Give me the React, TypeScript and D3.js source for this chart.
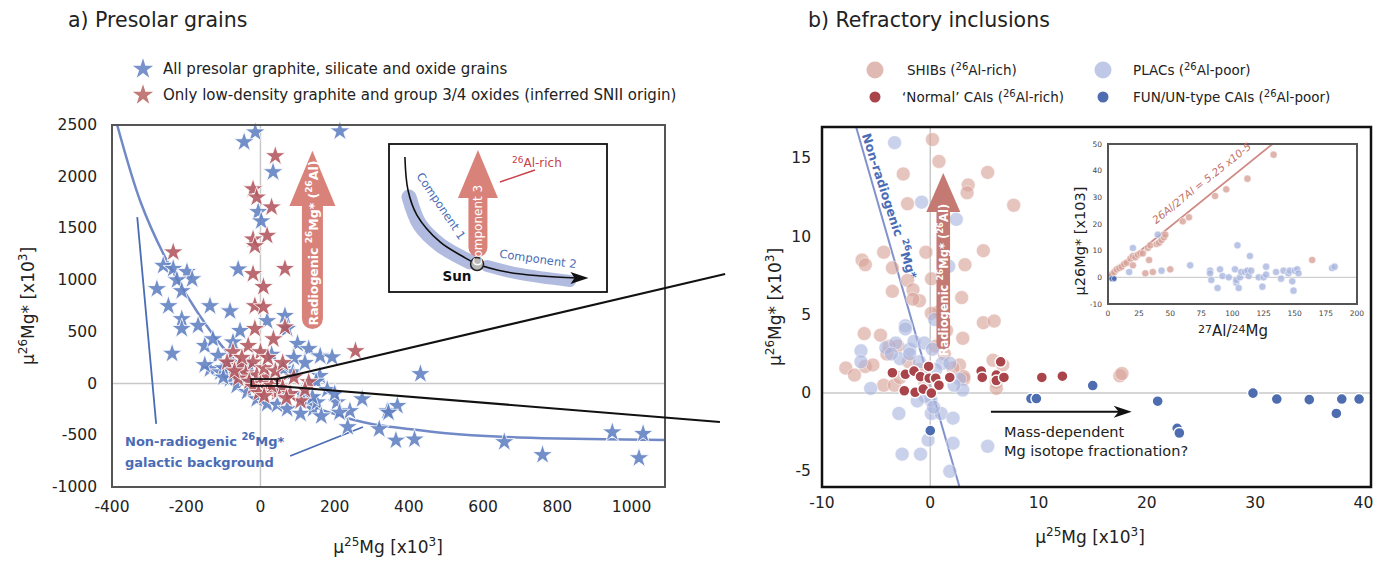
import React from "react";
import * as d3 from "d3";

const W = 1387;
const H = 562;
const FONT = "'DejaVu Sans', Verdana, sans-serif";

// ---------------- Panel a: presolar grains ----------------
const aXTicks = [-400, -200, 0, 200, 400, 600, 800, 1000];
const aYTicks = [-1000, -500, 0, 500, 1000, 1500, 2000, 2500];

const aBlueStars: [number, number][] = [
  [-14, 2430], [-44, 2335], [214, 2440], [34, 2045], [-6, 1660], [2, 1570], [-60, 1105],
  [-262, 1140], [-235, 1110], [-198, 1080], [-184, 1010], [-225, 1000], [-279, 915], [-212, 895],
  [-248, 750], [-136, 750], [-82, 700], [-212, 625], [-168, 560], [-212, 530], [-238, 290],
  [-150, 365], [-128, 430], [-55, 510], [-74, 400], [-114, 270], [-136, 140], [-82, 205],
  [66, 655], [72, 530], [18, 605], [100, 385], [130, 335], [161, 265], [193, 255], [431, 93],
  [61, 140], [88, 110], [160, 75],
  [-108, 110], [-82, 45], [-64, -20], [-36, -80], [-10, -150], [18, -195], [45, -205], [72, -245], [108, -290],
  [142, -245], [206, -180], [241, -265], [274, -150], [342, -265], [369, -215], [130, -165], [152, -180],
  [164, -315], [213, -280], [235, -420], [320, -440], [345, -280], [365, -550], [415, -540],
  [657, -565], [760, -690], [948, -470], [1031, -485], [1020, -720],
  [-150, 180], [-100, 150], [-60, 100], [-100, 60], [-40, 60], [110, -100], [140, -130], [60, -60],
  [150, 20], [120, 200], [-30, 170], [30, 280], [90, 250], [180, -60], [200, -100],
];

const aRedStars: [number, number][] = [
  [-235, 1270], [40, 2200], [-20, 1880], [-10, 1800], [30, 1705], [18, 1430], [-20, 1395], [-15, 1330],
  [66, 1110], [-20, 1060], [8, 935], [-15, 750], [8, 740], [-15, 530], [66, 545], [35, 430],
  [-33, 365], [-74, 305], [0, 305], [-90, 205], [-55, 170], [-20, 205], [256, 315], [130, 15],
  [108, -170], [45, -85], [20, -55],
  [-40, 100], [-10, 80], [20, 60], [50, 30], [-60, 50], [-30, 20], [0, 0], [30, -20], [60, -40],
  [80, -100], [-20, -30], [10, 150], [40, 120], [-50, 250], [20, 250], [60, 200], [90, 60],
  [120, -60], [-5, -90], [70, -140], [-70, 120], [10, -120],
];

const aBackgroundCurve: [number, number][] = [
  [-386, 2500], [-323, 1755], [-261, 1250], [-198, 850], [-145, 560], [-90, 305], [-40, 130],
  [0, 30], [50, -70], [100, -160], [150, -235], [200, -295], [250, -350], [300, -390],
  [400, -440], [500, -480], [650, -515], [800, -532], [1090, -545],
];
const aLeftLine: [number, number][] = [[-332, 1610], [-281, -390]];
const aLowerLine: [number, number][] = [[80, -700], [276, -420]];
const aZoomBox = { x0: -25, x1: 45, y0: -23, y1: 44 };
const aZoomUpperEnd: [number, number] = [1252, 1060];
const aZoomLowerEnd: [number, number] = [1238, -371];
const aArrow = { x: 140, tip: 2250, base: 1717, bottom: 528 };

// schematic inset (unit coordinates)
const sCurve: [number, number][] = [
  [0.073, 0.912], [0.087, 0.689], [0.128, 0.52], [0.234, 0.338], [0.335, 0.243],
  [0.404, 0.189], [0.541, 0.135], [0.7, 0.108], [0.86, 0.095],
];
const sBand1: [number, number][] = [[0.092, 0.642], [0.142, 0.453], [0.234, 0.318], [0.372, 0.203]];
const sBand2: [number, number][] = [[0.45, 0.176], [0.601, 0.122], [0.83, 0.074]];
const sSun: [number, number] = [0.404, 0.189];

// ---------------- Panel b: refractory inclusions ----------------
const bXTicks = [-10, 0, 10, 20, 30, 40];
const bYTicks = [-5, 0, 5, 10, 15];

const bSHIBs: [number, number][] = [
  [0.2, 16.2], [0.8, 14.8], [-2.5, 14.0], [5.3, 14.1], [3.5, 13.3], [3.4, 12.8], [-2.1, 12.1], [7.7, 12.0],
  [-6.3, 8.5], [-6.0, 8.2], [-4.3, 9.0], [-3.5, 8.0], [-0.4, 9.0], [4.9, 9.1], [3.2, 8.2], [-2.1, 7.2],
  [-1.6, 6.6], [-3.5, 6.5], [0.1, 7.3], [-1.0, 5.9], [-1.6, 6.0], [2.9, 6.1], [0.8, 5.2], [0.1, 5.1],
  [4.9, 4.5], [5.9, 4.6], [-6.1, 3.8], [-4.6, 3.7], [3.0, 3.5], [-7.8, 1.6], [-7.0, 1.15], [-6.0, 1.7],
  [-5.3, 1.8], [-4.3, 0.5], [-3.3, 0.5], [5.8, 2.1], [6.7, 1.8], [6.1, 0.7], [6.1, 0.3], [1.3, 2.5],
  [2.7, 1.8], [3.1, 0.9], [2.1, 1.6], [3.1, 1.05], [17.5, 1.1], [17.7, 1.25], [-3.0, 3.0], [-2.0, 2.0],
  [-1.0, 1.5], [-4.0, 2.5], [0.5, 3.0], [1.5, 4.0], [-0.5, 0.7], [-2.8, 1.0], [-3.8, 3.0],
];
const bPLACs: [number, number][] = [
  [-3.3, 16.0], [-0.8, 12.2], [2.4, 11.1], [1.7, 8.1],
  [-6.4, 2.7], [-6.4, 2.0], [-4.1, 2.9], [-3.2, 3.2], [-2.3, 4.3], [-1.9, 2.8], [-1.5, 3.3],
  [-0.55, 3.2], [0.2, 2.8], [1.1, 1.9], [1.8, 1.9], [2.7, 0.9], [3.0, 0.2], [-5.5, 0.3],
  [-2.9, -1.3], [0.1, -1.3], [1.0, -1.3], [2.1, -1.6], [-2.6, -3.9], [-0.9, -3.9], [-0.2, -3.0],
  [2.1, -3.2], [1.8, -5.0], [5.3, -3.4], [0.06, -0.45], [0.3, -0.9], [-2.8, 2.2], [-3.6, 2.5],
  [-1.0, 2.0], [0.5, 1.5], [2.2, 0.5], [-0.5, -0.2], [-1.2, -0.5], [-2.3, 4.1], [0.4, 4.7], [-1.9, 2.5],
];
const bNormal: [number, number][] = [
  [-3.5, 1.3], [-2.3, 1.2], [-1.5, 1.4], [-0.9, 1.05], [-0.15, 1.7], [-0.1, 0.95], [0.5, 0.95],
  [0.8, 0.5], [1.8, 1.0], [-2.4, 0.15], [-1.4, 0.05], [-0.65, 0.25], [0.1, 0.0], [4.7, 1.4],
  [4.8, 1.0], [6.1, 1.15], [6.1, 0.8], [6.5, 2.0], [6.8, 1.0], [10.3, 1.0], [12.2, 1.08],
];
const bFUN: [number, number][] = [
  [0, -2.4], [9.3, -0.35], [9.8, -0.35], [15.0, 0.48], [21.0, -0.52], [22.8, -2.25], [23.0, -2.55],
  [29.8, 0.0], [32.0, -0.38], [35.0, -0.42], [37.5, -1.3], [38.0, -0.38], [39.6, -0.38],
];
const bNonRadLine: [number, number][] = [[-6.85, 17], [2.7, -6]];
const bArrow = { x: 1.2, tip: 14.06, base: 11.57, bottom: 2.75 };
const bMassArrow: [number, number][] = [[5.6, -1.2], [18.6, -1.2]];

// inset b (Al/Mg isochron)
const iXTicks = [0, 25, 50, 75, 100, 125, 150, 175, 200];
const iYTicks = [-10, 0, 10, 20, 30, 40, 50];
const iSHIBs: [number, number][] = [
  [3, 1], [5, 2], [7, 3], [9, 3.5], [11, 4], [13, 5], [15, 5.5], [18, 7], [20, 8], [22, 7.5], [24, 8.5],
  [26, 9], [28, 9], [32, 11], [34, 12], [39, 12.5], [41, 13], [43, 14], [45, 15], [46, 16], [60, 21],
  [65, 22.5], [86, 30.5], [95, 33], [112, 37], [133, 46],
  [20, 4.5], [33, 6.5], [30, 1.5], [36, 2], [50, 3], [164, 6.5],
];
const iPLACs: [number, number][] = [
  [17, 2], [20, 11], [40, 16], [43, 2.5], [66, 4.5], [82, 2.5], [83, -1], [82, 1.5], [88, -4], [90, 3],
  [92, 0.5], [97, 0], [102, 3], [103, -2], [104, 12], [103, -1], [105, -4], [106, 0], [107, 2],
  [110, 2], [112, 2.5], [113, 0.5], [114, 8], [115, 2.5], [121, 0], [124, -3.5], [125, 0], [127, 1],
  [127, 4], [135, 2], [139, -0.5], [141, 2.5], [145, 1.5], [146, 2.5], [148, -1.5], [149, -5],
  [150, 2.5], [152, 3], [153, 1.5], [180, 3.5], [182, 4],
];
const iFUN: [number, number][] = [[3, -0.5], [5, -0.5]];
const iSlope = 0.3768; // 26Al/27Al = 5.25e-5
const iIntercept = 0.2;

// ---------------- scales ----------------
const xA = d3.scaleLinear().domain([-400, 1090]).range([112, 665]);
const yA = d3.scaleLinear().domain([-1000, 2500]).range([487, 125]);
const xB = d3.scaleLinear().domain([-10, 40.7]).range([822, 1371]);
const yB = d3.scaleLinear().domain([-6, 17]).range([487, 127]);
const xI = d3.scaleLinear().domain([0, 200]).range([1108, 1357]);
const yI = d3.scaleLinear().domain([-10, 50]).range([304, 144]);
const xS = d3.scaleLinear().domain([0, 1]).range([389, 607]);
const yS = d3.scaleLinear().domain([0, 1]).range([292, 144]);

const starPath = d3.symbol(d3.symbolStar, 128)() as string;

const C = {
  blueStar: "#5f7fc2",
  redStar: "#b0555c",
  blueLeg: "#7a92cc",
  redLeg: "#c27b78",
  curve: "#7189c6",
  annBlue: "#4a6cb5",
  arrowA: "#d9827a",
  arrowB: "#c47a72",
  shib: "#d6a198",
  plac: "#a9b5df",
  normal: "#a8444a",
  fun: "#4d6db0",
  text: "#222",
};

function upArrow(cx: number, tip: number, base: number, bottom: number, hw: number, sw: number) {
  return `M${cx},${tip} L${cx + hw},${base} L${cx + sw},${base} L${cx + sw},${bottom - sw} A${sw},${sw} 0 0 1 ${cx - sw},${bottom - sw} L${cx - sw},${base} L${cx - hw},${base} Z`;
}

// rich text: strings are normal, {s} objects are superscripts
type Part = string | { s: string };
function rich(parts: Part[], supSize: number, up = 6) {
  let prevSup = false;
  return parts.map((p, i) => {
    const isSup = typeof p !== "string";
    const txt = isSup ? (p as { s: string }).s : (p as string);
    const dy = isSup ? (prevSup ? 0 : -up) : prevSup ? up : 0;
    prevSup = isSup;
    return (
      <tspan key={i} dy={dy} fontSize={isSup ? supSize : undefined}>
        {txt}
      </tspan>
    );
  });
}

export default function App() {
  const lineA = d3.line<[number, number]>().x((d) => xA(d[0])).y((d) => yA(d[1])).curve(d3.curveCatmullRom.alpha(0.5));
  const lineS = d3.line<[number, number]>().x((d) => xS(d[0])).y((d) => yS(d[1])).curve(d3.curveCatmullRom.alpha(0.5));

  const zbx0 = xA(aZoomBox.x0), zbx1 = xA(aZoomBox.x1), zby0 = yA(aZoomBox.y1), zby1 = yA(aZoomBox.y0);

  const sunX = xS(sSun[0]), sunY = yS(sSun[1]);
  const sEnd = sCurve[sCurve.length - 1];
  const sEndX = xS(sEnd[0]), sEndY = yS(sEnd[1]);

  const iLineX1 = (50 - iIntercept) / iSlope;

  return (
    <svg width={W} height={H} style={{ display: "block", position: "absolute", left: 0, top: 0, fontFamily: FONT }} viewBox={`0 0 ${W} ${H}`}>
      <rect x={0} y={0} width={W} height={H} fill="#fff" />

      {/* ================= PANEL A ================= */}
      <text x={68} y={27} fontSize={20.5} fill={C.text}>a) Presolar grains</text>
      <g fontSize={15} fill={C.text}>
        <path d={starPath} transform="translate(143,69)" fill={C.blueLeg} />
        <text x={163} y={74}>All presolar graphite, silicate and oxide grains</text>
        <path d={starPath} transform="translate(143,95)" fill={C.redLeg} />
        <text x={163} y={100}>Only low-density graphite and group 3/4 oxides (inferred SNII origin)</text>
      </g>

      {/* grid zero lines */}
      <line x1={xA(0)} x2={xA(0)} y1={yA(2500)} y2={yA(-1000)} stroke="#c8c8c8" strokeWidth={1.5} />
      <line x1={xA(-400)} x2={xA(1090)} y1={yA(0)} y2={yA(0)} stroke="#c8c8c8" strokeWidth={1.5} />

      {/* tick labels */}
      <g fontSize={15.5} fill={C.text}>
        {aYTicks.map((t) => (
          <text key={t} x={97} y={yA(t)} textAnchor="end" dominantBaseline="central">{t}</text>
        ))}
        {aXTicks.map((t) => (
          <text key={t} x={xA(t)} y={512} textAnchor="middle">{t}</text>
        ))}
      </g>
      <text transform={`translate(34,${(yA(2500) + yA(-1000)) / 2}) rotate(-90)`} textAnchor="middle" fontSize={17} fill={C.text}>
        {rich(["µ", { s: "26" }, "Mg* [x10", { s: "3" }, "]"], 12, 7)}
      </text>
      <text x={388} y={553} textAnchor="middle" fontSize={17} fill={C.text}>
        {rich(["µ", { s: "25" }, "Mg [x10", { s: "3" }, "]"], 12, 7)}
      </text>

      {/* background curve & annotation lines */}
      <path d={lineA(aBackgroundCurve) as string} fill="none" stroke={C.curve} strokeWidth={2.5} />
      <line x1={xA(aLeftLine[0][0])} y1={yA(aLeftLine[0][1])} x2={xA(aLeftLine[1][0])} y2={yA(aLeftLine[1][1])} stroke={C.annBlue} strokeWidth={1.8} />
      <line x1={xA(aLowerLine[0][0])} y1={yA(aLowerLine[0][1])} x2={xA(aLowerLine[1][0])} y2={yA(aLowerLine[1][1])} stroke={C.annBlue} strokeWidth={1.8} />

      {/* stars */}
      <g>
        {aBlueStars.map((d, i) => (
          <path key={"b" + i} d={starPath} transform={`translate(${xA(d[0])},${yA(d[1])})`} fill={C.blueStar} fillOpacity={0.88} stroke="#fff" strokeWidth={0.9} strokeOpacity={0.9} />
        ))}
        {aRedStars.map((d, i) => (
          <path key={"r" + i} d={starPath} transform={`translate(${xA(d[0])},${yA(d[1])})`} fill={C.redStar} fillOpacity={0.88} stroke="#fff" strokeWidth={0.9} strokeOpacity={0.9} />
        ))}
      </g>

      {/* frame */}
      <rect x={xA(-400)} y={yA(2500)} width={xA(1090) - xA(-400)} height={yA(-1000) - yA(2500)} fill="none" stroke="#555" strokeWidth={2} />

      {/* zoom box and lines */}
      <rect x={zbx0} y={zby0} width={zbx1 - zbx0} height={zby1 - zby0} fill="none" stroke="#111" strokeWidth={1.8} />
      <line x1={zbx1} y1={zby0} x2={xA(aZoomUpperEnd[0])} y2={yA(aZoomUpperEnd[1])} stroke="#111" strokeWidth={2} />
      <line x1={zbx1} y1={zby1} x2={xA(aZoomLowerEnd[0])} y2={yA(aZoomLowerEnd[1])} stroke="#111" strokeWidth={2} />

      {/* radiogenic arrow a */}
      <path d={upArrow(xA(aArrow.x), yA(aArrow.tip), yA(aArrow.base), yA(aArrow.bottom), 23, 10.5)} fill={C.arrowA} />
      <text transform={`translate(${xA(aArrow.x) + 1},${yA(aArrow.bottom) - 86}) rotate(-90)`} textAnchor="middle" dominantBaseline="central" fontSize={12.5} fontWeight="bold" fill="#fff">
        {rich(["Radiogenic ", { s: "26" }, "Mg* (", { s: "26" }, "Al)"], 9, 4)}
      </text>

      {/* non-radiogenic label */}
      <g fontSize={13} fontWeight="bold" fill={C.annBlue}>
        <text x={125} y={446}>{rich(["Non-radiogenic ", { s: "26" }, "Mg*"], 10, 6)}</text>
        <text x={125} y={467}>galactic background</text>
      </g>

      {/* schematic inset */}
      <rect x={xS(0)} y={yS(1)} width={xS(1) - xS(0)} height={yS(0) - yS(1)} fill="#fff" stroke="#111" strokeWidth={1.8} />
      <path d={lineS(sBand1) as string} fill="none" stroke="#a3afda" strokeOpacity={0.85} strokeWidth={15} strokeLinecap="round" />
      <path d={lineS(sBand2) as string} fill="none" stroke="#a3afda" strokeOpacity={0.85} strokeWidth={12} strokeLinecap="round" />
      <path d={upArrow(xS(0.408), yS(0.959), yS(0.635), yS(0.236), 20, 9.5)} fill={C.arrowA} />
      <path d={lineS(sCurve) as string} fill="none" stroke="#111" strokeWidth={1.6} />
      <path d={`M${sEndX + 12},${sEndY} L${sEndX - 6},${sEndY - 6} L${sEndX - 2},${sEndY} L${sEndX - 6},${sEndY + 6} Z`} fill="#111" />
      <circle cx={sunX} cy={sunY} r={6.5} fill="#b8b8b8" stroke="#222" strokeWidth={1.5} />
      <text transform={`translate(${xS(0.408)},${yS(0.45)}) rotate(-90)`} textAnchor="middle" dominantBaseline="central" fontSize={12} fill="#fff">Component 3</text>
      <text transform="translate(441,206) rotate(56)" textAnchor="middle" dominantBaseline="central" fontSize={11.5} fill={C.annBlue}>Component 1</text>
      <text transform="translate(538,259) rotate(8)" textAnchor="middle" dominantBaseline="central" fontSize={11.5} fill={C.annBlue}>Component 2</text>
      <text x={457} y={281} textAnchor="middle" fontSize={13.5} fontWeight="bold" fill="#111">Sun</text>
      <text x={512} y={167} fontSize={12} fill="#c8404a">{rich([{ s: "26" }, "Al-rich"], 9, 4)}</text>
      <line x1={500} y1={182} x2={535} y2={170} stroke="#c8404a" strokeWidth={1.5} />

      {/* ================= PANEL B ================= */}
      <text x={808} y={27} fontSize={20.5} fill={C.text}>b) Refractory inclusions</text>
      <g fontSize={13.5} fill={C.text}>
        <circle cx={875} cy={70} r={8.5} fill={C.shib} fillOpacity={0.75} />
        <text x={907} y={75}>{rich(["SHIBs (", { s: "26" }, "Al-rich)"], 10, 5)}</text>
        <circle cx={875} cy={97} r={5.5} fill={C.normal} />
        <text x={902} y={102}>{rich(["‘Normal’ CAIs (", { s: "26" }, "Al-rich)"], 10, 5)}</text>
        <circle cx={1103} cy={70} r={8.5} fill={C.plac} fillOpacity={0.75} />
        <text x={1133} y={75}>{rich(["PLACs (", { s: "26" }, "Al-poor)"], 10, 5)}</text>
        <circle cx={1103} cy={97} r={5.5} fill={C.fun} />
        <text x={1133} y={102}>{rich(["FUN/UN-type CAIs (", { s: "26" }, "Al-poor)"], 10, 5)}</text>
      </g>

      <line x1={xB(0)} x2={xB(0)} y1={yB(17)} y2={yB(-6)} stroke="#c8c8c8" strokeWidth={1.5} />
      <line x1={xB(-10)} x2={xB(40.7)} y1={yB(0)} y2={yB(0)} stroke="#c8c8c8" strokeWidth={1.5} />

      <g fontSize={15.5} fill={C.text}>
        {bYTicks.map((t) => (
          <text key={t} x={811} y={yB(t)} textAnchor="end" dominantBaseline="central">{t}</text>
        ))}
        {bXTicks.map((t) => (
          <text key={t} x={xB(t)} y={508} textAnchor="middle">{t}</text>
        ))}
      </g>
      <text transform={`translate(781,${(yB(17) + yB(-6)) / 2}) rotate(-90)`} textAnchor="middle" fontSize={17} fill={C.text}>
        {rich(["µ", { s: "26" }, "Mg* [x10", { s: "3" }, "]"], 12, 7)}
      </text>
      <text x={1090} y={543} textAnchor="middle" fontSize={17} fill={C.text}>
        {rich(["µ", { s: "25" }, "Mg [x10", { s: "3" }, "]"], 12, 7)}
      </text>

      <line x1={xB(bNonRadLine[0][0])} y1={yB(bNonRadLine[0][1])} x2={xB(bNonRadLine[1][0])} y2={yB(bNonRadLine[1][1])} stroke="#8192cc" strokeWidth={2} />
      <text transform="translate(890,206) rotate(72)" textAnchor="middle" dominantBaseline="central" fontSize={12.5} fontWeight="bold" fill={C.annBlue}>
        {rich(["Non-radiogenic ", { s: "26" }, "Mg*"], 9, 4)}
      </text>

      <g>
        {bSHIBs.map((d, i) => (
          <circle key={"s" + i} cx={xB(d[0])} cy={yB(d[1])} r={7} fill={C.shib} fillOpacity={0.62} stroke="#fff" strokeOpacity={0.6} strokeWidth={0.8} />
        ))}
        {bPLACs.map((d, i) => (
          <circle key={"p" + i} cx={xB(d[0])} cy={yB(d[1])} r={7} fill={C.plac} fillOpacity={0.62} stroke="#fff" strokeOpacity={0.6} strokeWidth={0.8} />
        ))}
      </g>

      <path d={upArrow(xB(bArrow.x), yB(bArrow.tip), yB(bArrow.base), yB(bArrow.bottom), 17, 6.8)} fill={C.arrowB} />
      <text transform={`translate(${xB(bArrow.x) + 0.5},${yB(bArrow.bottom) - 70}) rotate(-90)`} textAnchor="middle" dominantBaseline="central" fontSize={11.5} fontWeight="bold" fill="#fff">
        {rich(["Radiogenic ", { s: "26" }, "Mg* (", { s: "26" }, "Al)"], 8.5, 4)}
      </text>

      <g>
        {bNormal.map((d, i) => (
          <circle key={"n" + i} cx={xB(d[0])} cy={yB(d[1])} r={5.5} fill={C.normal} stroke="#fff" strokeWidth={1.4} />
        ))}
        {bFUN.map((d, i) => (
          <circle key={"f" + i} cx={xB(d[0])} cy={yB(d[1])} r={5.5} fill={C.fun} stroke="#fff" strokeWidth={1.4} />
        ))}
      </g>

      {/* mass-dependent arrow */}
      <line x1={xB(bMassArrow[0][0])} y1={yB(bMassArrow[0][1])} x2={xB(bMassArrow[1][0]) - 12} y2={yB(bMassArrow[1][1])} stroke="#111" strokeWidth={2} />
      <path d={`M${xB(bMassArrow[1][0])},${yB(bMassArrow[1][1])} l-18,-6 l5,6 l-5,6 Z`} fill="#111" />
      <g fontSize={14.5} fill={C.text}>
        <text x={1004} y={437}>Mass-dependent</text>
        <text x={1004} y={456}>Mg isotope fractionation?</text>
      </g>

      {/* frame b */}
      <rect x={xB(-10)} y={yB(17)} width={xB(40.7) - xB(-10)} height={yB(-6) - yB(17)} fill="none" stroke="#111" strokeWidth={2.5} />

      {/* inset b */}
      <line x1={xI(0)} x2={xI(200)} y1={yI(0)} y2={yI(0)} stroke="#cfcfcf" strokeWidth={1.2} />
      <line x1={xI(0)} y1={yI(iIntercept)} x2={xI(iLineX1)} y2={yI(50)} stroke="#cf8a84" strokeWidth={1.8} />
      <g>
        {iSHIBs.map((d, i) => (
          <circle key={"is" + i} cx={xI(d[0])} cy={yI(d[1])} r={3.6} fill={C.shib} fillOpacity={0.8} stroke="#fff" strokeWidth={0.5} />
        ))}
        {iPLACs.map((d, i) => (
          <circle key={"ip" + i} cx={xI(d[0])} cy={yI(d[1])} r={3.6} fill={C.plac} fillOpacity={0.8} stroke="#fff" strokeWidth={0.5} />
        ))}
        {iFUN.map((d, i) => (
          <circle key={"if" + i} cx={xI(d[0])} cy={yI(d[1])} r={2.8} fill={C.fun} stroke="#fff" strokeWidth={0.6} />
        ))}
      </g>
      <rect x={xI(0)} y={yI(50)} width={xI(200) - xI(0)} height={yI(-10) - yI(50)} fill="none" stroke="#555" strokeWidth={2} />
      <g fontSize={7.5} fill="#444">
        {iYTicks.map((t) => (
          <text key={t} x={1102} y={yI(t)} textAnchor="end" dominantBaseline="central">{t}</text>
        ))}
        {iXTicks.map((t) => (
          <text key={t} x={xI(t)} y={316} textAnchor="middle">{t}</text>
        ))}
      </g>
      <text transform="translate(1085,241) rotate(-90)" textAnchor="middle" fontSize={14.5} fill={C.text}>µ26Mg* [x103]</text>
      <text x={1233} y={336} textAnchor="middle" fontSize={15} fill={C.text}>
        <tspan fontSize={11} dy={-3}>27</tspan>
        <tspan dy={3}>Al/</tspan>
        <tspan fontSize={11} dy={-3}>24</tspan>
        <tspan dy={3}>Mg</tspan>
      </text>
      <text transform="translate(1204,186) rotate(-38.5)" textAnchor="middle" fontSize={10.5} fontStyle="italic" fill="#c0706a">
        26Al/27Al = 5.25 x10-5
      </text>
    </svg>
  );
}
